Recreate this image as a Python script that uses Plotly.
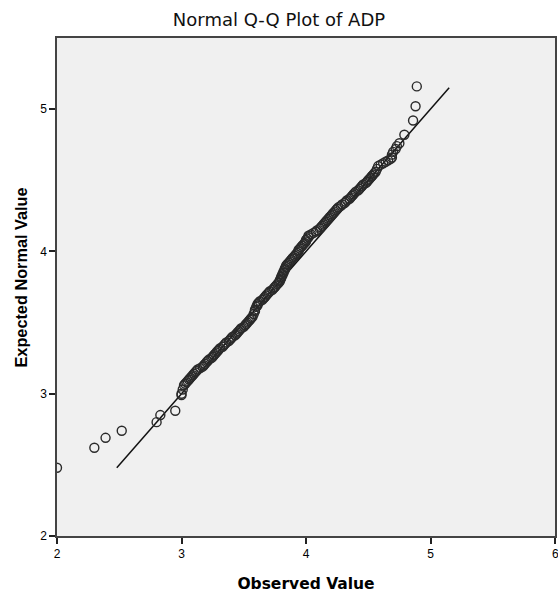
import plotly.graph_objects as go

observed = [2.00, 2.30, 2.39, 2.52, 2.80, 2.83, 2.95,
            3.00, 3.00, 3.01, 3.02, 3.03, 3.04, 3.05, 3.06, 3.07, 3.08, 3.09, 3.10, 3.11, 3.12,
            3.13, 3.15, 3.17, 3.18, 3.19, 3.20, 3.21, 3.22, 3.24, 3.25, 3.26, 3.27, 3.28, 3.29,
            3.30, 3.31, 3.33, 3.34, 3.35, 3.36, 3.38, 3.39, 3.40, 3.41, 3.43, 3.44, 3.45, 3.46,
            3.47, 3.48, 3.50, 3.51, 3.52, 3.53, 3.54, 3.55, 3.56, 3.57, 3.58, 3.59, 3.59, 3.60,
            3.61, 3.61, 3.62, 3.63, 3.65, 3.66, 3.67, 3.68, 3.69, 3.70, 3.71, 3.73, 3.74, 3.75,
            3.76, 3.77, 3.78, 3.79, 3.79, 3.80, 3.80, 3.81, 3.81, 3.82, 3.82, 3.83, 3.83, 3.84,
            3.84, 3.85, 3.86, 3.87, 3.88, 3.89, 3.90, 3.91, 3.92, 3.93, 3.94, 3.94, 3.95, 3.96,
            3.97, 3.98, 3.99, 4.00, 4.00, 4.01, 4.02, 4.02, 4.04, 4.06, 4.08, 4.09, 4.11, 4.12,
            4.13, 4.14, 4.15, 4.16, 4.17, 4.18, 4.19, 4.20, 4.21, 4.22, 4.23, 4.24, 4.25, 4.26,
            4.28, 4.29, 4.31, 4.32, 4.33, 4.35, 4.36, 4.37, 4.38, 4.39, 4.40, 4.42, 4.43, 4.44,
            4.45, 4.46, 4.48, 4.49, 4.50, 4.51, 4.52, 4.53, 4.54, 4.55, 4.56, 4.57, 4.58, 4.60,
            4.62, 4.64, 4.66, 4.68, 4.69, 4.69, 4.70, 4.72, 4.73, 4.75, 4.79, 4.86, 4.88, 4.89]
expected = [2.48, 2.62, 2.69, 2.74, 2.80, 2.85, 2.88,
            2.99, 3.00, 3.03, 3.06, 3.07, 3.08, 3.09, 3.10, 3.11, 3.12, 3.13, 3.14, 3.15, 3.16,
            3.17, 3.18, 3.19, 3.20, 3.21, 3.22, 3.23, 3.24, 3.25, 3.26, 3.27, 3.28, 3.29, 3.30,
            3.31, 3.32, 3.33, 3.34, 3.35, 3.36, 3.37, 3.38, 3.39, 3.40, 3.41, 3.42, 3.43, 3.44,
            3.45, 3.46, 3.47, 3.48, 3.49, 3.50, 3.51, 3.52, 3.53, 3.54, 3.56, 3.58, 3.59, 3.61,
            3.62, 3.63, 3.64, 3.65, 3.66, 3.67, 3.68, 3.69, 3.70, 3.71, 3.72, 3.73, 3.74, 3.75,
            3.76, 3.77, 3.78, 3.79, 3.80, 3.81, 3.82, 3.83, 3.84, 3.85, 3.86, 3.87, 3.88, 3.89,
            3.90, 3.91, 3.92, 3.93, 3.94, 3.95, 3.96, 3.97, 3.98, 3.99, 4.00, 4.01, 4.02, 4.03,
            4.04, 4.05, 4.06, 4.07, 4.08, 4.09, 4.10, 4.11, 4.12, 4.13, 4.14, 4.15, 4.16, 4.17,
            4.18, 4.19, 4.20, 4.21, 4.22, 4.23, 4.24, 4.25, 4.26, 4.27, 4.28, 4.29, 4.30, 4.31,
            4.32, 4.33, 4.34, 4.35, 4.36, 4.37, 4.38, 4.39, 4.40, 4.41, 4.42, 4.43, 4.44, 4.45,
            4.46, 4.47, 4.48, 4.49, 4.50, 4.51, 4.52, 4.53, 4.54, 4.55, 4.56, 4.58, 4.60, 4.61,
            4.62, 4.63, 4.64, 4.65, 4.66, 4.68, 4.70, 4.72, 4.74, 4.76, 4.82, 4.92, 5.02, 5.16]

ref_line_x = [2.48, 5.15]
ref_line_y = [2.48, 5.15]

x_ticks = [2, 3, 4, 5, 6]
y_ticks = [2, 3, 4, 5]

fig = go.Figure()
fig.add_trace(go.Scatter(x=ref_line_x, y=ref_line_y, mode="lines",
                         line=dict(color="#111111", width=1.5), showlegend=False,
                         hoverinfo="skip"))
fig.add_trace(go.Scatter(x=observed, y=expected, mode="markers",
                         marker=dict(symbol="circle-open", size=9,
                                     color="#2a2a2a", line=dict(width=1.4, color="#2a2a2a")),
                         showlegend=False))

font_family = "Liberation Sans, Arial, sans-serif"
title_family = "DejaVu Sans, sans-serif"
fig.update_layout(
    width=558, height=593,
    margin=dict(l=57, r=1, t=38, b=57),
    paper_bgcolor="white",
    plot_bgcolor="#F0F0F0",
    font=dict(family=font_family, color="#000000", size=12),
    title=dict(text="Normal Q-Q Plot of ADP", x=0.5, xanchor="center",
               xref="container", y=1 - 20 / 593, yanchor="middle",
               font=dict(size=18, family=title_family, color="#111111")),
)
fig.update_xaxes(range=[2, 6], tickvals=x_ticks, ticktext=[str(v) for v in x_ticks],
                 showgrid=False, zeroline=False,
                 showline=True, linecolor="#444444", linewidth=1.5, mirror=True,
                 ticks="outside", ticklen=6, tickwidth=1.5, tickcolor="#222222",
                 tickfont=dict(size=12, family=font_family),
                 title=dict(text="<b>Observed Value</b>",
                            font=dict(size=15.5, family="DejaVu Sans, sans-serif"),
                            standoff=18))
fig.update_yaxes(range=[2, 5.5], tickvals=y_ticks, ticktext=[str(v) for v in y_ticks],
                 showgrid=False, zeroline=False,
                 showline=True, linecolor="#444444", linewidth=1.5, mirror=True,
                 ticks="outside", ticklen=6, tickwidth=1.5, tickcolor="#222222",
                 tickfont=dict(size=12, family=font_family))

# y-axis title, placed slightly above the plot-area centre as in the reference
fig.add_annotation(x=0, y=0.519, xref="paper", yref="paper", text="<b>Expected Normal Value</b>",
                   textangle=-90, showarrow=False, xanchor="center", yanchor="middle",
                   xshift=-36, font=dict(size=16.3, family=font_family, color="#000000"))

# right-edge tick label "6" (partially cut by the page edge as in the reference)
fig.add_annotation(x=6, y=0, xref="x", yref="paper", text="6", showarrow=False,
                   xanchor="center", yanchor="top", yshift=-9,
                   font=dict(size=12, family=font_family, color="#000000"))

fig.write_html("out.html", config={"displayModeBar": False},
               post_script="document.body.style.margin='0';document.body.style.overflow='hidden';")
